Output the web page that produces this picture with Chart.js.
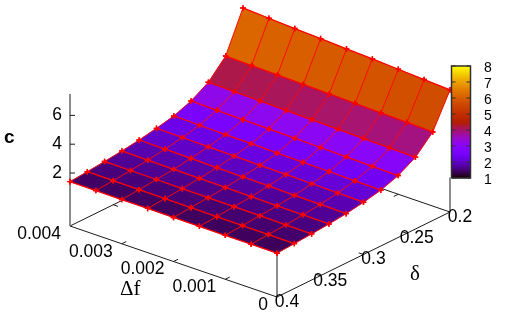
<!DOCTYPE html>
<html><head><meta charset="utf-8">
<style>html,body{margin:0;padding:0;background:#fff}canvas{display:block}</style>
<script src="https://cdn.jsdelivr.net/npm/chart.js@4"></script></head>
<body><canvas id="c" width="505" height="324"></canvas>
<script>
// Data
const deltaF = [0.004,0.0035,0.003,0.0025,0.002,0.0015,0.001,0.0005,0];
const delta  = [0.4,0.38,0.36,0.34,0.32,0.3,0.28,0.26,0.24,0.22,0.2];
const c040 = [1.40,1.40,1.39,1.39,1.38,1.38,1.37,1.37,1.36];
const c038 = [1.50,1.49,1.48,1.48,1.47,1.46,1.46,1.45,1.44];
const c036 = [1.62,1.61,1.60,1.58,1.57,1.56,1.55,1.53,1.52];
const c034 = [1.76,1.74,1.72,1.71,1.69,1.67,1.65,1.64,1.62];
const c032 = [1.93,1.91,1.89,1.86,1.84,1.82,1.79,1.77,1.75];
const c030 = [2.15,2.13,2.10,2.08,2.05,2.03,2.00,1.98,1.95];
const c028 = [2.42,2.39,2.36,2.34,2.31,2.28,2.26,2.23,2.20];
const c026 = [2.87,2.84,2.81,2.78,2.75,2.72,2.69,2.65,2.62];
const c024 = [3.58,3.54,3.51,3.47,3.44,3.40,3.37,3.33,3.30];
const c022 = [4.81,4.77,4.73,4.69,4.65,4.61,4.56,4.52,4.47];
const c020 = [7.56,7.46,7.36,7.28,7.18,7.10,7.00,6.90,6.80];
const cRows = [c040,c038,c036,c034,c032,c030,c028,c026,c024,c022,c020];
const deltaFTicks = [0.004,0.003,0.002,0.001,0];
const deltaFLabels = ['0.004','0.003','0.002','0.001','0'];
const deltaTicks = [0.4,0.35,0.3,0.25,0.2];
const deltaLabels = ['0.4','0.35','0.3','0.25','0.2'];
const cTicks = [2,4,6];
const cbTicks = [1,2,3,4,5,6,7,8];

// View: oblique projection of (Δf, δ, c) to the chart's plane
const FRONT = {x:277,y:297}, dF = {x:-207,y:-71}, dD = {x:173,y:-85};
const Z_PER_C = 14.4, C_BASE = 2-53/14.4, C_TOP = 7.49;
function proj(f,d,c){
  const u=f/0.004, v=(0.4-d)/0.2;
  return {x:FRONT.x+dF.x*u+dD.x*v, y:FRONT.y+dF.y*u+dD.y*v-(c-C_BASE)*Z_PER_C};
}
function pal(c){
  const g=Math.min(1,Math.max(0,(c-1)/7));
  const r=Math.sqrt(g), gg=g*g*g, b=Math.max(0,Math.sin(2*Math.PI*g));
  return `rgb(${Math.round(r*255)},${Math.round(gg*255)},${Math.round(b*255)})`;
}
const sets=[];
function line(pts,color,w){sets.push({data:pts,showLine:true,borderColor:color,borderWidth:w,pointRadius:0,fill:false,tension:0,clip:false});}
function poly(pts,color){sets.push({data:pts.concat([pts[0]]),showLine:true,borderColor:color,borderWidth:0.6,backgroundColor:color,pointRadius:0,fill:'shape',tension:0,clip:false});}
function off(p,x,y){return {x:p.x+x,y:p.y+y};}

// Base frame
const GREY='#707070', BLK='#1a1a1a';
line([proj(0.004,0.4,C_BASE),proj(0,0.4,C_BASE),proj(0,0.2,C_BASE),proj(0.004,0.2,C_BASE),proj(0.004,0.4,C_BASE)],BLK,1);
// Base ticks
deltaFTicks.slice(1,4).forEach(f=>{
  const a=proj(f,0.4,C_BASE), b=proj(f,0.2,C_BASE);
  const ux=(b.x-a.x)/191, uy=(b.y-a.y)/191;
  line([a,off(a,ux*5,uy*5)],BLK,1);
  line([b,off(b,-ux*5,-uy*5)],BLK,1);
});
deltaTicks.slice(1,4).forEach(d=>{
  const a=proj(0,d,C_BASE), b=proj(0.004,d,C_BASE);
  const ux=(b.x-a.x)/219, uy=(b.y-a.y)/219;
  line([a,off(a,ux*5,uy*5)],BLK,1);
  line([b,off(b,-ux*5,-uy*5)],BLK,1);
});
// Verticals and c axis
line([proj(0.004,0.4,C_BASE),proj(0.004,0.4,C_TOP)],GREY,1.6);
line([proj(0,0.4,C_BASE),proj(0,0.4,cRows[0][8])],GREY,1.6);
line([proj(0,0.2,C_BASE),proj(0,0.2,C_BASE+2.4)],GREY,1.6);
cTicks.forEach(c=>{const a=proj(0.004,0.4,c);line([a,off(a,5,0)],BLK,1);});

// Surface facets
for(let i=0;i<delta.length-1;i++)for(let j=0;j<deltaF.length-1;j++){
  const m=(cRows[i][j]+cRows[i][j+1]+cRows[i+1][j]+cRows[i+1][j+1])/4;
  poly([proj(deltaF[j],delta[i],cRows[i][j]),proj(deltaF[j+1],delta[i],cRows[i][j+1]),proj(deltaF[j+1],delta[i+1],cRows[i+1][j+1]),proj(deltaF[j],delta[i+1],cRows[i+1][j])],pal(m));
}
// Surface mesh with + markers
const RED='#ff0000';
function mesh(pts,w){sets.push({data:pts,showLine:true,borderColor:RED,borderWidth:w,pointStyle:'cross',pointRadius:2.8,pointBorderColor:RED,pointBorderWidth:1.4,pointBackgroundColor:RED,fill:false,tension:0,clip:false});}
deltaF.forEach((f,j)=>mesh(delta.map((d,i)=>proj(f,d,cRows[i][j])),0.9));
delta.forEach((d,i)=>mesh(deltaF.map((f,j)=>proj(f,d,cRows[i][j])),1.3));

// Colour box
const CB={l:451.5,r:470.5,y1:178,per:16};
const cbY=c=>CB.y1-(c-1)*CB.per;
for(let k=0;k<112;k++){
  const c0=1+k/16, c1=1+(k+1)/16;
  poly([{x:CB.l,y:cbY(c0)},{x:CB.r,y:cbY(c0)},{x:CB.r,y:cbY(c1)},{x:CB.l,y:cbY(c1)}],pal((c0+c1)/2));
}
const CBK='#303030';
line([{x:CB.l,y:cbY(1)},{x:CB.r,y:cbY(1)},{x:CB.r,y:cbY(8)},{x:CB.l,y:cbY(8)},{x:CB.l,y:cbY(1)}],CBK,1.5);
cbTicks.forEach(c=>{
  line([{x:CB.l,y:cbY(c)},{x:CB.l+4,y:cbY(c)}],CBK,1);
  line([{x:CB.r,y:cbY(c)},{x:CB.r-4,y:cbY(c)}],CBK,1);
});
sets.forEach((s,i)=>{s.order=sets.length-i;});

const textPlugin={id:'labels',afterDraw(ch){
  const ctx=ch.ctx, X=ch.scales.x, Y=ch.scales.y;
  const put=(t,x,y,font,al)=>{ctx.font=font;ctx.textAlign=al;ctx.textBaseline='middle';ctx.fillStyle='#000';ctx.fillText(t,X.getPixelForValue(x),Y.getPixelForValue(y));};
  const F='17.5px "Liberation Sans"';
  ctx.save();
  cTicks.forEach(c=>{const p=proj(0.004,0.4,c);put(String(c),p.x-8,p.y,F,'right');});
  deltaFTicks.forEach((f,i)=>{const p=proj(f,0.4,C_BASE);put(deltaFLabels[i],p.x-9,p.y+8,F,'right');});
  deltaTicks.forEach((d,i)=>{const p=proj(0,d,C_BASE);put(deltaLabels[i],p.x+10,p.y+5,F,'center');});
  cbTicks.forEach(c=>put(String(c),484,cbY(c)+2,'14px "Liberation Sans"','left'));
  put('c',4,138,'bold 19px "Liberation Sans"','left');
  put('Δf',120,289,'21px "Liberation Serif"','left');
  put('δ',415,274,'21px "Liberation Serif"','center');
  ctx.restore();
}};
new Chart(document.getElementById('c'),{type:'scatter',data:{datasets:sets},plugins:[textPlugin],options:{
  responsive:false,animation:false,events:[],layout:{padding:0,autoPadding:false},
  plugins:{legend:{display:false},tooltip:{enabled:false},title:{display:false}},
  scales:{x:{type:'linear',min:0,max:505,display:false},y:{type:'linear',min:0,max:324,reverse:true,display:false}}
}});
</script></body></html>
